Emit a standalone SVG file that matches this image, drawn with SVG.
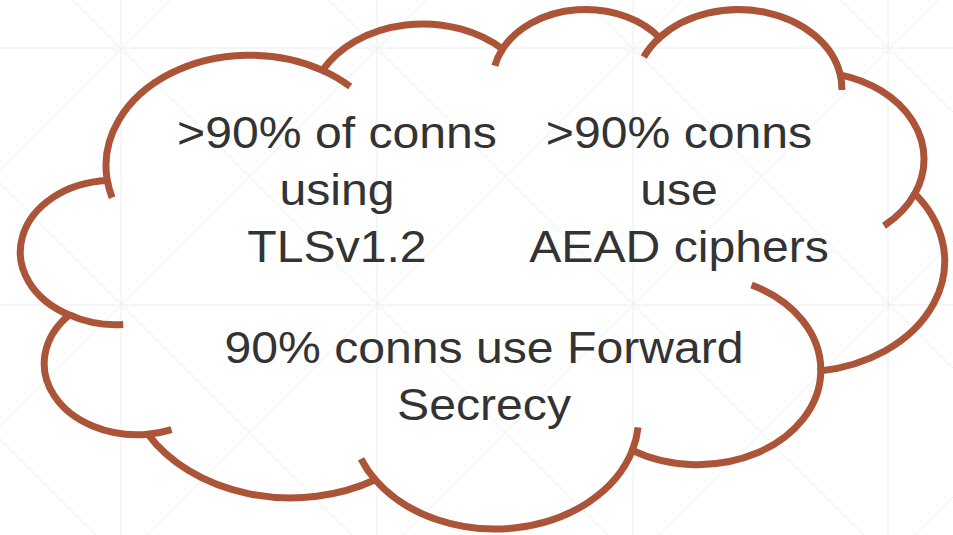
<svg xmlns="http://www.w3.org/2000/svg" width="953" height="535" viewBox="0 0 953 535">
  <style>
    .grid { stroke: #ececec; stroke-width: 1; fill: none; }
    .cloud { fill: none; stroke: #ac5438; stroke-width: 7; vector-effect: non-scaling-stroke; stroke-linecap: butt; }
    .label { font-family: "Liberation Sans", Arial, sans-serif; font-size: 45px; fill: #333333; text-anchor: middle; }
  </style>

  <rect width="953" height="535" fill="#ffffff"/>

  <!-- faint background grid with cell diagonals -->
  <g id="grid" class="grid">
    <line x1="121" y1="0" x2="121" y2="535"/>
    <line x1="377" y1="0" x2="377" y2="535"/>
    <line x1="633" y1="0" x2="633" y2="535"/>
    <line x1="888" y1="0" x2="888" y2="535"/>
    <line x1="0" y1="48" x2="953" y2="48"/>
    <line x1="0" y1="305" x2="953" y2="305"/>
    <line x1="-439" y1="0" x2="96" y2="535"/>
    <line x1="-183" y1="0" x2="352" y2="535"/>
    <line x1="73" y1="0" x2="608" y2="535"/>
    <line x1="329" y1="0" x2="864" y2="535"/>
    <line x1="585" y1="0" x2="1120" y2="535"/>
    <line x1="841" y1="0" x2="1376" y2="535"/>
    <line x1="170" y1="0" x2="-365" y2="535"/>
    <line x1="426" y1="0" x2="-109" y2="535"/>
    <line x1="682" y1="0" x2="147" y2="535"/>
    <line x1="938" y1="0" x2="403" y2="535"/>
    <line x1="1194" y1="0" x2="659" y2="535"/>
    <line x1="1450" y1="0" x2="915" y2="535"/>
  </g>

  <!-- cloud outline, drawn in a 43200 x 43200 shape space -->
  <g id="cloud" transform="translate(24.25 7.8) scale(0.021296 0.012021)">
    <path class="cloud" d="M 3900 14370
      A 6753 9190 0 0 1 14005.3 5202.2
      A 5333 7267 0 0 1 22456.3 3432
      A 4365 5945 0 0 1 29833.4 2480.8
      A 4857 6595 0 0 1 38318.6 5575.9
      A 5333 7273 0 0 1 41818.8 15459.7
      A 6775 9220 0 0 1 37404.8 30203.1
      A 5785 7867 0 0 1 28556.6 36813.4
      A 6752 9215 0 0 1 16481 39264.3
      A 7720 10543 0 0 1 5805.5 35470.2
      A 4360 5918 0 0 1 2114.1 25548.5
      A 4345 5945 0 0 1 3900 14370 Z"/>
    <!-- inner lobe tails -->
    <path class="cloud" d="M 4127 15789 A 6753 9190 0 0 1 3900 14370
      M 14005.3 5202.2 A 6753 9190 0 0 1 15303 6549
      M 22097 4822 A 4365 5945 0 0 1 22456.3 3432
      M 29091.7 4092.3 A 4857 6595 0 0 1 29833.4 2480.8
      M 38318.6 5575.9 A 4857 6595 0 0 1 38395 6840
      M 41818.8 15459.7 A 5333 7273 0 0 1 40371 18135
      M 34153.4 23067.6 A 5785 7867 0 0 1 37404.8 30203.1
      M 28823.2 34904.3 A 6752 9215 0 0 1 28556.6 36813.4
      M 16481 39264.3 A 6752 9215 0 0 1 15813 37524
      M 6913.7 35088.9 A 4360 5918 0 0 1 5805.5 35470.2
      M 4647.2 26345.3 A 4345 5945 0 0 1 2114.1 25548.5"/>
  </g>

  <g id="tls-version">
    <text class="label" transform="translate(337 148) scale(1.07 1)">&gt;90% of conns</text>
    <text class="label" transform="translate(337 205) scale(1.07 1)">using</text>
    <text class="label" transform="translate(337 262) scale(1.07 1)">TLSv1.2</text>
  </g>

  <g id="aead-ciphers">
    <text class="label" transform="translate(679 148) scale(1.07 1)">&gt;90% conns</text>
    <text class="label" transform="translate(679 205) scale(1.07 1)">use</text>
    <text class="label" transform="translate(679 262) scale(1.07 1)">AEAD ciphers</text>
  </g>

  <g id="forward-secrecy">
    <text class="label" transform="translate(484 363) scale(1.07 1)">90% conns use Forward</text>
    <text class="label" transform="translate(484 420) scale(1.07 1)">Secrecy</text>
  </g>
</svg>
